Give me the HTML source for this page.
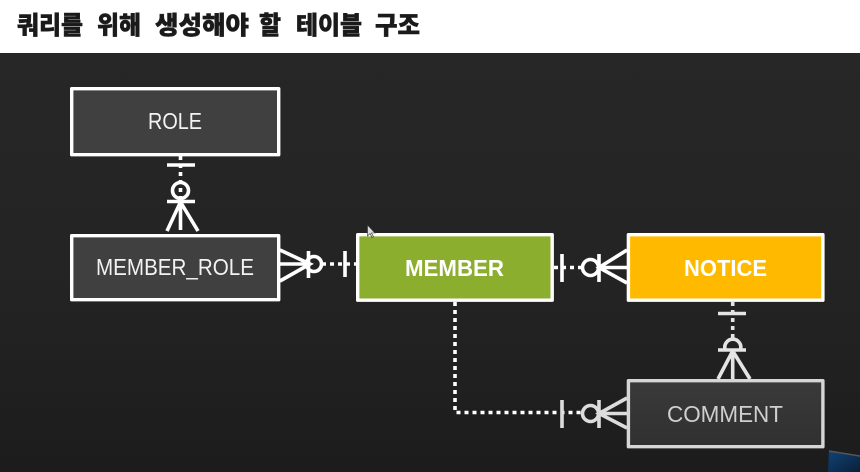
<!DOCTYPE html>
<html lang="ko"><head><meta charset="utf-8"><title>테이블 구조</title>
<style>
html,body{margin:0;padding:0;background:#222}
svg{display:block}
</style></head><body>
<svg width="860" height="472" viewBox="0 0 860 472" xmlns="http://www.w3.org/2000/svg">
<defs>
<linearGradient id="bg" x1="0" y1="0" x2="0" y2="1"><stop offset="0" stop-color="#272727"/><stop offset="0.6" stop-color="#232323"/><stop offset="1" stop-color="#1c1c1c"/></linearGradient>
<linearGradient id="dk" x1="0" y1="0" x2="0" y2="1"><stop offset="0" stop-color="#3a3a3a"/><stop offset="1" stop-color="#303030"/></linearGradient>
<linearGradient id="lap" x1="0" y1="0" x2="1" y2="1"><stop offset="0" stop-color="#0f4476"/><stop offset="1" stop-color="#0a1f38"/></linearGradient>
</defs>
<rect x="0" y="53" width="860" height="419" fill="url(#bg)"/>
<rect x="0" y="0" width="860" height="53" fill="#fff"/>
<g font-family="'Liberation Sans','Noto Sans CJK KR',sans-serif" font-size="25" font-weight="900" fill="#1a1a1a" stroke="#1a1a1a" stroke-width=".5">
<text x="17" y="34" textLength="66" lengthAdjust="spacingAndGlyphs">쿼리를</text>
<text x="97" y="34" textLength="44" lengthAdjust="spacingAndGlyphs">위해</text>
<text x="155" y="34" textLength="94" lengthAdjust="spacingAndGlyphs">생성해야</text>
<text x="259" y="34" textLength="22" lengthAdjust="spacingAndGlyphs">할</text>
<text x="296" y="34" textLength="66" lengthAdjust="spacingAndGlyphs">테이블</text>
<text x="375" y="34" textLength="45" lengthAdjust="spacingAndGlyphs">구조</text>
</g>

<!-- connectors -->
<g fill="none" stroke="#fff" stroke-width="3.600">
<path d="M180.500 156V202" stroke-dasharray="4 4"/>
<path d="M167 165H195M167 201.500H195"/>
<circle cx="180.500" cy="190.500" r="8"/>
<path d="M180.500 202L167 231M180.500 202V230M180.500 202L198 231"/>
<path d="M322 264H356" stroke-dasharray="4 4"/>
<path d="M280 264H310"/>
<path d="M280 250L310 264L280 281"/>
<path d="M308.500 251V278M345 251V277"/>
<circle cx="314" cy="264" r="7.500"/>
<path d="M554 267.500H583" stroke-dasharray="4 4"/>
<path d="M562 254V282M599 254V282"/>
<circle cx="590.500" cy="267.500" r="8"/>
<path d="M627 250L599 267.500L627 283M599 267.500H627"/>
<path d="M455 302V412.500H583" stroke-dasharray="4 4"/>
</g>
<g fill="none" stroke="#e4e4e4" stroke-width="3.600">
<path d="M732.700 302V338" stroke-dasharray="4 4"/>
<path d="M718 313.500H746M718 350H746"/>
<path d="M725.300 350A8 8 0 1 1 740.300 350"/>
<path d="M732.700 351L718 379M732.700 351V379M732.700 351L750 379"/>
<path d="M562 400V428M599 400V428" stroke="#dcdcdc"/>
<circle cx="590.500" cy="413.500" r="8" stroke="#dcdcdc"/>
<path d="M627 398L599 413.500L627 428M599 413.500H627" stroke="#dcdcdc"/>
</g>

<!-- boxes -->
<g stroke-width="3.400" stroke-linejoin="round">
<rect x="71.700" y="88.700" width="207" height="66" fill="#404040" stroke="#fff"/>
<rect x="71.700" y="235.700" width="207" height="64" fill="#404040" stroke="#fff"/>
<rect x="357.700" y="234.700" width="194.500" height="65.500" fill="#8cae2e" stroke="#fff"/>
<rect x="628.400" y="234.700" width="194.500" height="65.500" fill="#ffba00" stroke="#fff"/>
<rect x="628.400" y="380.700" width="194.500" height="66" fill="url(#dk)" stroke="#d6d6d6"/>
</g>

<g font-family="'Liberation Sans',sans-serif" font-size="23" text-anchor="start">
<text x="148" y="129" fill="#f2f2f2" textLength="54" lengthAdjust="spacingAndGlyphs">ROLE</text>
<text x="96" y="275" fill="#f2f2f2" textLength="158" lengthAdjust="spacingAndGlyphs">MEMBER_ROLE</text>
<text x="405" y="276" fill="#fff" font-weight="700" textLength="99" lengthAdjust="spacingAndGlyphs">MEMBER</text>
<text x="684" y="276" fill="#fff" font-weight="700" textLength="83" lengthAdjust="spacingAndGlyphs">NOTICE</text>
<text x="667" y="422" fill="#cfcfcf" textLength="116" lengthAdjust="spacingAndGlyphs">COMMENT</text>
</g>

<!-- cursor -->
<path d="M367.500 225V236L370 233.500L372 237.500L373.500 236.500L371.500 233H375Z" fill="#ddd" stroke="#333" stroke-width=".6"/>

<!-- corner laptop -->
<path d="M829 451L860 456V472H828Z" fill="url(#lap)"/>
<path d="M829 451L860 456" stroke="#555" stroke-width="1.500" fill="none"/>
</svg>
</body></html>
